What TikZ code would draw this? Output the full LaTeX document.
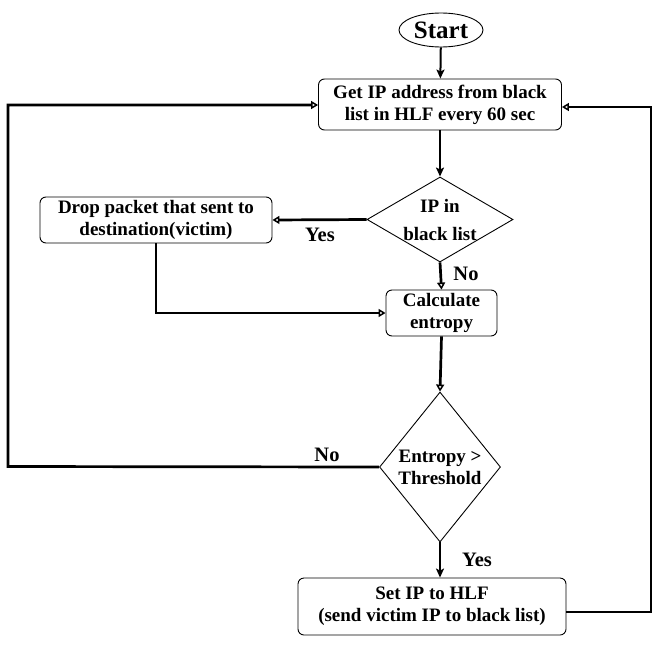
\documentclass[tikz,border=0pt]{standalone}
\usepackage{fontspec}
\setmainfont{Liberation Serif}
\usetikzlibrary{shapes.geometric,arrows.meta}
\begin{document}
\begin{tikzpicture}[x=1pt,y=-1pt,
  every node/.style={font=\bfseries\fontsize{19}{22}\selectfont, align=center, inner sep=0pt},
  procbox/.style={draw, rounded corners=6pt, line width=0.9pt},
  decision/.style={draw, diamond, line width=0.9pt},
  flowline/.style={line width=2.7pt},
  openarr/.style={flowline, -{Triangle[open,length=7pt,width=8pt,line width=1.5pt]}},
  fillarr/.style={line width=2pt, -{Stealth[length=9pt,width=8pt,inset=2pt]}},
  lbl/.style={font=\bfseries\fontsize{20.5}{24}\selectfont}
]
\useasboundingbox (0,0) rectangle (652,645);
\node[draw, ellipse, line width=0.9pt, minimum width=84pt, minimum height=34pt,
      font=\bfseries\fontsize{25}{28}\selectfont] (start) at (441,30) {Start};
\node[procbox, minimum width=243pt, minimum height=51pt] (b1) at (440,104.5)
  {Get IP address from black\\list in HLF every 60 sec};
\node[decision, minimum width=146pt, minimum height=85pt,
      label={[font=\bfseries\fontsize{19}{28}\selectfont, align=center]center:IP in\\black list}] (d1) at (440,219.5) {};
\node[procbox, minimum width=232pt, minimum height=46pt] (drop) at (156,220)
  {Drop packet that sent to\\destination(victim)};
\node[procbox, minimum width=111pt, minimum height=46pt] (calc) at (441.5,313)
  {Calculate\\entropy};
\node[decision, minimum width=121pt, minimum height=150pt,
      label={[align=center]center:Entropy >\\Threshold}] (d2) at (440,467) {};
\node[procbox, minimum width=268pt, minimum height=57pt] (b3) at (432,606.5)
  {Set IP to HLF\\(send victim IP to black list)};

\coordinate (lt) at (8,105);
\coordinate (lb) at (8,466.5);
\coordinate (rt) at (651,107);
\coordinate (rb) at (651,612);

\draw[fillarr] (start) -- (b1);
\draw[fillarr] (b1) -- (d1);
\draw[openarr] (d1.west) -- (drop.east);
\draw[openarr] (d1.south) -- (calc.north);
\draw[openarr] (drop.south) |- (calc.west);
\draw[openarr] (calc.south) -- (d2.north);
\draw[fillarr, line width=1.6pt] (d2.south) -- (d2.south |- b3.north);
\draw[openarr] (d2.west) -- (lb) -- (lt) -- (lt -| b1.west);
\draw[openarr] (b3.east |- rb) -- (rb) -- (rt) -- (rt -| b1.east);

\node[lbl] (yes1) at (320,235) {Yes};
\node[lbl] (no1) at (466,274) {No};
\node[lbl] (no2) at (327,455) {No};
\node[lbl] (yes2) at (477,560) {Yes};
\end{tikzpicture}
\end{document}
